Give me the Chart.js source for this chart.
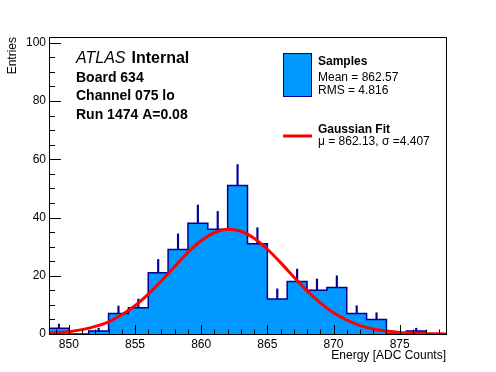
<!DOCTYPE html>
<html><head><meta charset="utf-8">
<script src="https://cdn.jsdelivr.net/npm/chart.js@4"></script>
<style>html,body{margin:0;padding:0;background:#fff;}#wrap{width:496px;height:372px;}</style>
</head><body><div id="wrap"><canvas id="c" width="496" height="372"></canvas></div>
<script>
// ---- data ----
const binEdges = [848.5, 850, 851.5, 853, 854.5, 856, 857.5, 859, 860.5, 862, 863.5, 865, 866.5, 868, 869.5, 871, 872.5, 874, 875.5, 877, 878.5];
const counts   = [2, 0, 1, 7, 9, 21, 29, 38, 36, 51, 31, 12, 18, 15, 16, 7, 5, 0, 1, 0];
const errors   = [1.4, 0, 1, 2.6, 3, 4.6, 5.4, 6.3, 6.1, 7.2, 5.5, 3.5, 4.3, 3.9, 4, 2.7, 2.3, 0, 1, 0];
const fitX = [848.5, 849, 850, 851, 852, 853, 854, 855, 856, 857, 858, 859, 860, 861, 862, 863, 864, 865, 866, 867, 868, 869, 870, 871, 872, 873, 874, 875, 876, 877, 878, 878.5];
const fitY = [0.3, 0.4, 0.8, 1.5, 2.6, 4.2, 6.6, 9.7, 13.7, 18.3, 23.2, 28.0, 32.0, 34.8, 36.0, 35.3, 32.9, 29.1, 24.5, 19.6, 14.8, 10.7, 7.3, 4.8, 2.9, 1.7, 1.0, 0.5, 0.25, 0.12, 0.06, 0.04];
const xTicks = [850, 855, 860, 865, 870, 875];
const yTicks = [0, 20, 40, 60, 80, 100];
const xRange = [848.5, 878.5];
const yRange = [0, 102];
const atlasLabel = ['ATLAS', 'Internal'];
const infoLines = ['Board 634', 'Channel 075 lo', 'Run 1474 A=0.08'];
const legendSamples = ['Samples', 'Mean = 862.57', 'RMS = 4.816'];
const legendFit = ['Gaussian Fit', 'μ = 862.13, σ =4.407'];

const FONT = '"Liberation Sans", Arial, Helvetica, sans-serif';
const FILL = '#0099ff', NAVY = '#000099', RED = '#ff0000';

const histData = binEdges.map((e, i) => ({x: e, y: i < counts.length ? counts[i] : 0}));
const errData = [];
counts.forEach((v, i) => {
  if (errors[i] > 0) errData.push({x: (binEdges[i] + binEdges[i + 1]) / 2, y: [v, v + errors[i]]});
});
const fitData = fitX.map((x, i) => ({x: x, y: fitY[i]}));

const decor = {
  id: 'decor',
  afterDatasetsDraw(chart) {
    const {ctx, chartArea: a, scales: {x, y}} = chart;
    ctx.save();
    ctx.strokeStyle = '#000';
    ctx.lineWidth = 1;
    ctx.beginPath();
    for (let v = Math.ceil(xRange[0]); v <= xRange[1]; v++) {
      const px = Math.round(x.getPixelForValue(v)) + 0.5;
      const len = (v % 5 === 0) ? 9 : 4.5;
      ctx.moveTo(px, a.bottom); ctx.lineTo(px, a.bottom - len);
    }
    for (let v = 0; v <= yRange[1]; v += 5) {
      const py = Math.round(y.getPixelForValue(v)) + 0.5;
      const len = (v % 20 === 0) ? 12 : 6;
      ctx.moveTo(a.left, py); ctx.lineTo(a.left + len, py);
    }
    ctx.stroke();
    ctx.strokeRect(Math.round(a.left) + 0.5, Math.round(a.top) + 0.5, Math.round(a.right - a.left), Math.round(a.bottom - a.top));
    ctx.restore();
  },
  afterDraw(chart) {
    const ctx = chart.ctx;
    ctx.save();
    ctx.fillStyle = '#000';
    ctx.textBaseline = 'alphabetic';
    ctx.textAlign = 'left';
    // ATLAS label
    ctx.font = 'italic 16px ' + FONT;
    ctx.fillText(atlasLabel[0], 76, 63);
    const w = ctx.measureText(atlasLabel[0]).width;
    ctx.font = 'bold 16px ' + FONT;
    ctx.fillText(atlasLabel[1], 76 + w + 6, 63);
    ctx.font = 'bold 14px ' + FONT;
    infoLines.forEach((t, i) => ctx.fillText(t, 76, 81.6 + i * 18.6));
    // legend: samples
    ctx.fillStyle = FILL;
    ctx.fillRect(283, 53, 29, 44);
    ctx.strokeStyle = NAVY;
    ctx.lineWidth = 1;
    ctx.strokeRect(283.5, 53.5, 28, 43);
    ctx.fillStyle = '#000';
    ctx.font = 'bold 12px ' + FONT;
    ctx.fillText(legendSamples[0], 318, 65);
    ctx.font = '12px ' + FONT;
    ctx.fillText(legendSamples[1], 318, 80.5);
    ctx.fillText(legendSamples[2], 318, 93.5);
    // legend: fit
    ctx.strokeStyle = RED;
    ctx.lineWidth = 3;
    ctx.beginPath(); ctx.moveTo(283, 136); ctx.lineTo(312, 136); ctx.stroke();
    ctx.font = 'bold 12px ' + FONT;
    ctx.fillText(legendFit[0], 318, 132.5);
    ctx.font = '12px ' + FONT;
    ctx.fillText(legendFit[1], 318, 145);
    ctx.restore();
  }
};

new Chart(document.getElementById('c'), {
  type: 'line',
  data: {
    datasets: [
      {type: 'line', label: 'Samples', data: histData, stepped: true, fill: 'origin',
       backgroundColor: FILL, borderColor: NAVY, borderWidth: 1.5, pointRadius: 0, order: 2},
      {type: 'bar', label: 'errors', data: errData, backgroundColor: NAVY, borderWidth: 0,
       barThickness: 1.5, grouped: false, order: 1},
      {type: 'line', label: 'Gaussian Fit', data: fitData, borderColor: RED, borderWidth: 3,
       pointRadius: 0, fill: false, cubicInterpolationMode: 'monotone', order: 0}
    ]
  },
  options: {
    responsive: false, animation: false, devicePixelRatio: 1,
    layout: {padding: {left: 0, right: 50, top: 37, bottom: 0}},
    plugins: {legend: {display: false}, tooltip: {enabled: false}},
    scales: {
      x: {
        type: 'linear', min: xRange[0], max: xRange[1], offset: false,
        grid: {display: false, drawTicks: false}, border: {display: false},
        ticks: {font: {family: FONT, size: 12}, color: '#000', padding: 3, maxRotation: 0, autoSkip: false},
        afterBuildTicks: s => { s.ticks = xTicks.map(v => ({value: v})); },
        afterFit: s => { s.height = 38; s.paddingLeft = 0; s.paddingRight = 0; },
        title: {display: true, text: 'Energy [ADC Counts]', align: 'end', color: '#000',
                font: {family: FONT, size: 12}, padding: {top: 0, bottom: 9}}
      },
      y: {
        type: 'linear', min: yRange[0], max: yRange[1],
        grid: {display: false, drawTicks: false}, border: {display: false},
        ticks: {font: {family: FONT, size: 12}, color: '#000', padding: 3},
        afterBuildTicks: s => { s.ticks = yTicks.map(v => ({value: v})); },
        afterFit: s => { s.width = 49; s.paddingTop = 0; s.paddingBottom = 0; },
        title: {display: true, text: 'Entries', align: 'end', color: '#000',
                font: {family: FONT, size: 12}, padding: {top: 5, bottom: 0}}
      }
    }
  },
  plugins: [decor]
});
</script>
</body></html>
